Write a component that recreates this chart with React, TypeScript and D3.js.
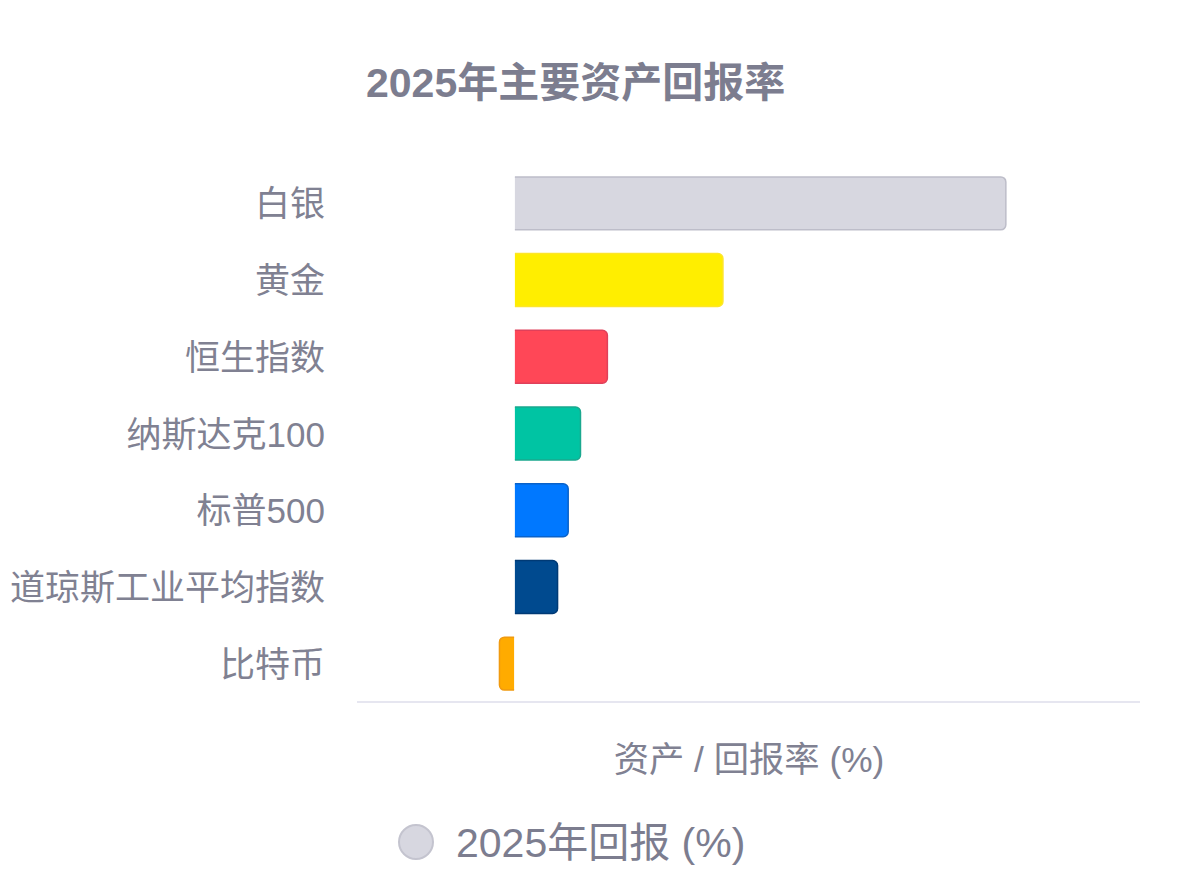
import React, { useEffect, useRef } from "react";
import * as d3 from "d3";

const categories = ["白银", "黄金", "恒生指数", "纳斯达克100", "标普500", "道琼斯工业平均指数", "比特币"];
const seriesValues = [148, 62.8, 28, 19.9, 16.2, 13, -4.5];
const fills = ["#d7d7e0", "#ffee00", "#ff4757", "#00c4a3", "#0078ff", "#004a8f", "#ffab00"];
const strokes = ["#bdbdc9", "#fde52a", "#e0405a", "#1aa88f", "#0a62c9", "#003a75", "#f09a10"];
const chartTitle = "2025年主要资产回报率";
const axisTitle = "资产 / 回报率 (%)";
const legendLabel = "2025年回报 (%)";

const FONT = '"Liberation Sans", "Noto Sans CJK SC", sans-serif';

export default function App() {
  const ref = useRef<SVGSVGElement>(null);
  useEffect(() => {
    const svg = d3.select(ref.current);
    svg.selectAll("*").remove();
    const x = d3.scaleLinear().domain([-47.4, 188.4]).range([357, 1140]);
    const y = d3.scaleBand<string>().domain(categories).range([165, 702]).paddingInner(0.31).paddingOuter(0.155);
    const r = 5;
    const zero = (v: number) => x(0) + (v >= 0 ? 0.5 : -0.3);

    svg.append("text").attr("x", 366).attr("y", 97).attr("font-size", 41).attr("font-weight", 700)
      .attr("font-family", FONT).attr("fill", "#7c7d8f").text(chartTitle);

    const barPath = (v: number, c: string) => {
      const x0 = zero(v), x1 = x(v), t = y(c)!, h = y.bandwidth();
      const s = v >= 0 ? 1 : -1;
      const sw = s > 0 ? 1 : 0;
      return `M${x0},${t}H${x1 - s * r}A${r},${r} 0 0 ${sw} ${x1},${t + r}V${t + h - r}A${r},${r} 0 0 ${sw} ${x1 - s * r},${t + h}H${x0}`;
    };
    svg.append("g").selectAll("path").data(categories).join("path")
      .attr("d", (c, i) => barPath(seriesValues[i], c) + "Z")
      .attr("fill", (_, i) => fills[i])
      .attr("stroke", "none");
    svg.append("g").selectAll("path").data(categories).join("path")
      .attr("d", (c, i) => barPath(seriesValues[i], c))
      .attr("fill", "none")
      .attr("stroke", (_, i) => strokes[i])
      .attr("stroke-width", 1.5);

    svg.append("g").selectAll("text").data(categories).join("text")
      .attr("x", 325).attr("y", (c) => y(c)! + y.bandwidth() / 2 + 13)
      .attr("text-anchor", "end").attr("font-size", 35).attr("font-family", FONT)
      .attr("fill", "#808192").text((c) => c);

    svg.append("line").attr("x1", 357).attr("x2", 1140).attr("y1", 702).attr("y2", 702)
      .attr("stroke", "#e6e6f0").attr("stroke-width", 2);

    svg.append("text").attr("x", 749).attr("y", 772).attr("text-anchor", "middle").attr("font-size", 35.3)
      .attr("font-family", FONT).attr("fill", "#808192").text(axisTitle);

    svg.append("circle").attr("cx", 416).attr("cy", 842).attr("r", 17)
      .attr("fill", "#d7d7e0").attr("stroke", "#c4c4cf").attr("stroke-width", 2);
    svg.append("text").attr("x", 456).attr("y", 857).attr("font-size", 41)
      .attr("font-family", FONT).attr("fill", "#7c7d8f").text(legendLabel);
  }, []);
  return (
    <svg ref={ref} width={1200} height={893} style={{ position: "absolute", left: 0, top: 0, background: "#fff" }} />
  );
}
